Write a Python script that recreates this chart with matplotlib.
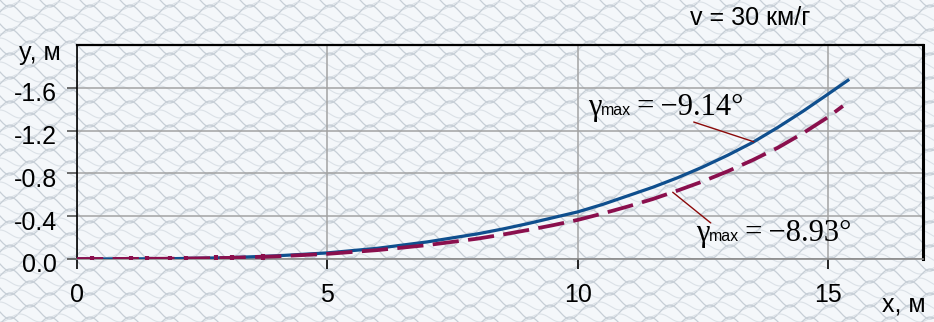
import matplotlib
matplotlib.use("Agg")
import matplotlib.pyplot as plt
import matplotlib.transforms as mtransforms
from matplotlib.offsetbox import TextArea, HPacker, AnnotationBbox
import numpy as np

plt.rcParams["font.family"] = ["Liberation Sans", "DejaVu Sans"]
plt.rcParams["axes.unicode_minus"] = False

# trajectory of the body, y (m) vs x (m)
x_blue = [0, 1, 2, 3, 4, 5, 6, 7, 8, 8.5, 9, 9.5, 10, 10.5, 11, 11.5, 12,
          12.5, 13, 13.5, 14, 14.5, 15, 15.4]
y_blue = [0, -0.001, -0.004, -0.012, -0.03, -0.057, -0.10, -0.16, -0.235,
          -0.28, -0.33, -0.385, -0.44, -0.51, -0.59, -0.67, -0.76,
          -0.86, -0.97, -1.09, -1.23, -1.38, -1.54, -1.67]

x_red = [0, 1, 2, 3, 4, 5, 6, 7, 8, 8.5, 9, 9.5, 10, 10.5, 11, 11.5, 12,
         12.5, 13, 13.5, 14, 14.5, 15, 15.3]
y_red = [0, -0.001, -0.003, -0.01, -0.025, -0.048, -0.083, -0.13, -0.19,
         -0.228, -0.27, -0.315, -0.365, -0.425, -0.49, -0.56, -0.64,
         -0.725, -0.82, -0.925, -1.04, -1.175, -1.325, -1.43]
red_nodes = [0.3, 1.08, 1.4, 1.86, 2.18, 2.78, 3.1, 3.72]

gamma_blue = -9.14
gamma_red = -8.93

xticks = [0, 5, 10, 15]
yticks = [0.0, -0.4, -0.8, -1.2, -1.6]

blue = "#0f4f8e"
red = "#8a0f4d"
leader = "#8b0a0a"

fig = plt.figure(figsize=(9.34, 3.22), dpi=100)
fig.patch.set_facecolor("#f4f7fa")

# lace texture behind everything
bg = fig.add_axes([0, 0, 1, 1], zorder=-5)
bg.set_xlim(0, 934)
bg.set_ylim(322, 0)
bg.axis("off")
xs = np.linspace(0, 934, 2400)
for k in range(-3, 30):
    ph = (k % 2) * np.pi
    bg.plot(xs, k * 12 + 7 * np.sin(2 * np.pi * xs / 40 + ph),
            color="#c6ced6", lw=0.9)
    bg.plot(xs, k * 12 + 6 + 4 * np.sin(2 * np.pi * xs / 40 + ph + np.pi / 2),
            color="#dbe1e7", lw=0.8)

ax = fig.add_axes([77 / 934, 1 - 259 / 322, (923 - 77) / 934, (259 - 45) / 322])
ax.set_facecolor("none")

ax.plot(x_blue, y_blue, color=blue, lw=2.3, zorder=3)
ax.plot(x_red, y_red, color=red, lw=2.7, dashes=(7, 2.5), zorder=4)
ax.plot(red_nodes, np.interp(red_nodes, x_red, y_red), ls="none",
        marker="|", ms=5, mew=3, color=red, zorder=4)

ax.set_xlim(0, 16.9)
ax.set_ylim(0, -2.0)
ax.set_xticks(xticks)
ax.set_yticks(yticks)
ax.set_yticklabels(["%.1f" % v for v in yticks])
ax.grid(True, color="#a3a3a3", lw=1.1)
ax.set_axisbelow(True)

ax.tick_params(axis="x", direction="out", length=7.5, width=1.2, color="black",
               labelsize=18, pad=10)
ax.tick_params(axis="y", direction="out", length=7.5, width=1.2, color="#555555",
               labelsize=18, pad=7)
shift = mtransforms.ScaledTranslation(0, -4 / 100, fig.dpi_scale_trans)
for lab in ax.get_yticklabels():
    lab.set_transform(lab.get_transform() + shift)

ax.spines["left"].set_color("black")
ax.spines["left"].set_linewidth(1.2)
ax.spines["bottom"].set_color("#8a8a8a")
ax.spines["bottom"].set_linewidth(1.2)
ax.spines["top"].set_linewidth(1.6)
ax.spines["right"].set_linewidth(2.2)


def gamma_box(value):
    serif = dict(family="Liberation Serif", size=22, color="black")
    sans = dict(family="Liberation Sans", size=11.5, color="black")
    parts = [TextArea("\u03b3", textprops=serif),
             TextArea("max", textprops=sans),
             TextArea("\u2009=\u2009\u2212%.2f\u00b0" % abs(value), textprops=serif)]
    return HPacker(children=parts, align="baseline", pad=0, sep=0)


def label_gamma(value, text_xy, start, stop, xs_, ys_):
    ab = AnnotationBbox(gamma_box(value), text_xy, xycoords="data",
                        box_alignment=(0, 0.5), frameon=False, pad=0)
    ax.add_artist(ab)
    ax.annotate("", xy=(stop, np.interp(stop, xs_, ys_)), xytext=start,
                arrowprops=dict(arrowstyle="-", color=leader, lw=1.0,
                                shrinkA=0, shrinkB=0))


label_gamma(gamma_blue, (10.2, -1.42), (12.32, -1.28), 13.52, x_blue, y_blue)
label_gamma(gamma_red, (12.36, -0.235), (12.66, -0.337), 11.9, x_red, y_red)

fig.text(0.803, 0.944, "v = 30 км/г", fontsize=18, ha="center", va="center")
fig.text(0.043, 0.835, "y, м", fontsize=18, ha="center", va="center")
fig.text(0.968, 0.055, "x, м", fontsize=18, ha="center", va="center")

fig.savefig("out.png", dpi=100, facecolor=fig.get_facecolor())
